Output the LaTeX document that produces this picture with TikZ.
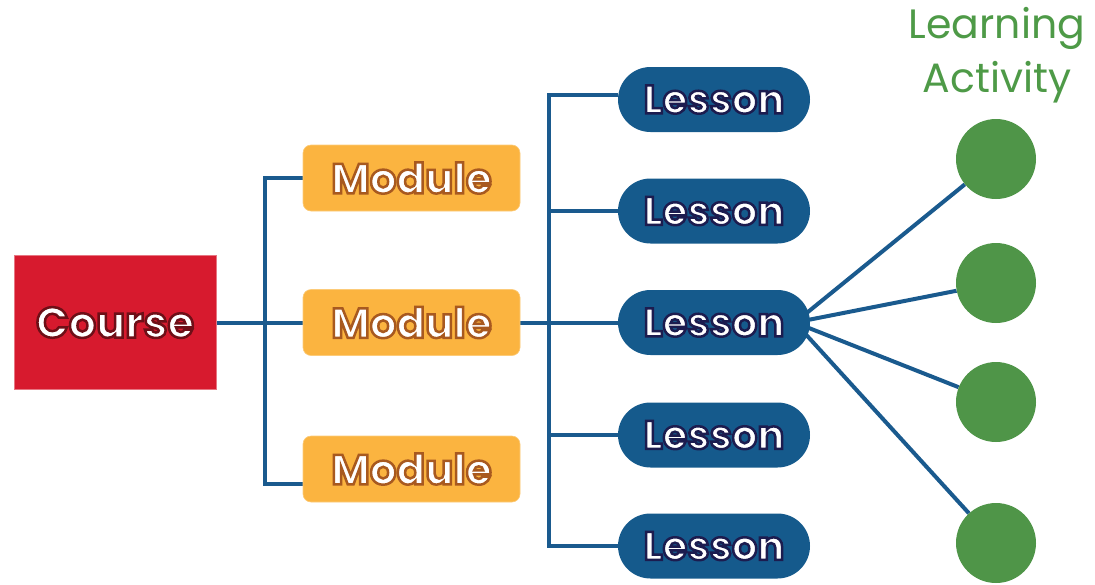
\documentclass[tikz,border=0pt]{standalone}
\usepackage{fontspec}
\setmainfont{Poppins}
\usetikzlibrary{backgrounds}
\definecolor{courseRed}{HTML}{D71A2E}
\definecolor{modOrange}{HTML}{FBB440}
\definecolor{lesBlue}{HTML}{155A8C}
\definecolor{actGreen}{HTML}{4F9548}
\definecolor{lineBlue}{HTML}{1A5A8E}
\definecolor{txtGreen}{HTML}{4E9A47}
\newcommand\outl[2]{\special{pdf:literal direct 2 Tr 2.5 w #1 RG}#2\special{pdf:literal direct 0 Tr}}
\tikzset{
  conn/.style={draw=lineBlue, line width=4pt},
  coursebox/.style={fill=courseRed, draw=courseRed!60!white, line width=0.6pt, minimum width=202pt, minimum height=134pt, inner sep=0pt, text=white, font=\fontsize{43}{48}\selectfont\bfseries},
  modbox/.style={fill=modOrange, draw=modOrange!70!white, line width=0.6pt, rounded corners=8pt, minimum width=217pt, minimum height=66pt, inner sep=0pt, text=white, font=\fontsize{42}{40}\selectfont\bfseries},
  lesbox/.style={fill=lesBlue, rounded corners=32.5pt, minimum width=192pt, minimum height=65pt, inner sep=0pt, text=white, font=\fontsize{40}{40}\selectfont\bfseries},
  actdot/.style={circle, fill=actGreen, minimum size=80pt, inner sep=0pt},
}
\begin{document}
\begin{tikzpicture}[x=1pt, y=-1pt]
\useasboundingbox (0,0) rectangle (1095,584);
\node[coursebox] (course) at (115,322.5) {\outl{0.43 0.06 0.09}{Course}};
\node[modbox] (mod1) at (411.5,178) {\outl{0.66 0.35 0.12}{Module}};
\node[modbox] (mod2) at (411.5,322.5) {\outl{0.66 0.35 0.12}{Module}};
\node[modbox] (mod3) at (411.5,469) {\outl{0.66 0.35 0.12}{Module}};
\node[lesbox] (les1) at (714,99.5) {\outl{0.11 0.11 0.31}{Lesson}};
\node[lesbox] (les2) at (714,211) {\outl{0.11 0.11 0.31}{Lesson}};
\node[lesbox] (les3) at (714,322.5) {\outl{0.11 0.11 0.31}{Lesson}};
\node[lesbox] (les4) at (714,435) {\outl{0.11 0.11 0.31}{Lesson}};
\node[lesbox] (les5) at (714,546) {\outl{0.11 0.11 0.31}{Lesson}};
\node[actdot] (act1) at (996,159) {};
\node[actdot] (act2) at (996,283) {};
\node[actdot] (act3) at (996,402) {};
\node[actdot] (act4) at (996,543) {};
\node[text=txtGreen, font=\fontsize{41}{54}\selectfont, align=center, anchor=north] (title) at (997,4) {Learning\\Activity};
\coordinate (hub) at (795,322.5);
\begin{scope}[on background layer]
\draw[conn] (course.east) -- (mod2.west);
\draw[conn] (mod1.west) -- ++(-38,0) |- ([yshift=-15pt]mod3.west);
\draw[conn] (mod2.east) -- (les3.west);
\draw[conn] ([yshift=4.5pt]les1.west) -- ++(-69,0) |- (les5.west);
\draw[conn] (les2.west) -- ++(-69,0);
\draw[conn] (les4.west) -- ++(-69,0);
\draw[conn] (hub) -- (act1);
\draw[conn] (hub) -- (act2);
\draw[conn] (hub) -- (act3);
\draw[conn] (hub) -- (act4);
\end{scope}
\end{tikzpicture}
\end{document}
